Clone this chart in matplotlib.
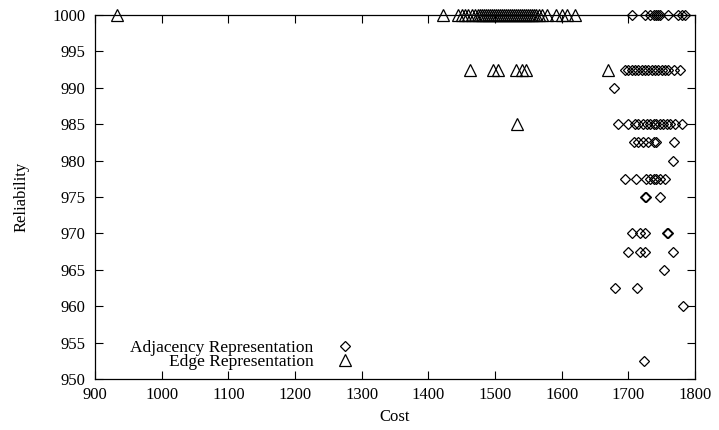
import numpy as np
import matplotlib.pyplot as plt

plt.rcParams['font.family'] = ['Liberation Serif', 'DejaVu Serif']
plt.rcParams['font.size'] = 12

# Adjacency representation (cost, reliability)
adj_cost = [1705, 1725, 1732, 1738, 1742, 1745, 1748, 1760, 1775, 1780, 1785,
            1695, 1700, 1705, 1710, 1715, 1720, 1725, 1730, 1735, 1740, 1745, 1750, 1755, 1760, 1768, 1778,
            1678,
            1685, 1700, 1710, 1715, 1722, 1728, 1733, 1738, 1742, 1748, 1752, 1758, 1763, 1770, 1780,
            1708, 1715, 1722, 1730, 1738, 1742, 1768,
            1767,
            1695, 1712, 1727, 1733, 1738, 1742, 1748, 1755,
            1725, 1727, 1748,
            1705, 1718, 1725, 1758, 1760,
            1700, 1717, 1725, 1767,
            1754,
            1680, 1713,
            1782,
            1723]
adj_rel = [1000] * 11 + [992.5] * 16 + [990] + [985] * 15 + [982.5] * 7 + [980] + \
          [977.5] * 8 + [975] * 3 + [970] * 5 + [967.5] * 4 + [965] + [962.5] * 2 + [960] + [952.5]

# Edge representation (cost, reliability)
edge_cost = [933, 1422, 1445, 1450, 1455, 1460, 1466, 1470, 1474, 1478, 1481, 1484, 1487,
             1490, 1493, 1496, 1499, 1502, 1505, 1508, 1511, 1514, 1517, 1520, 1523, 1526,
             1529, 1532, 1535, 1538, 1541, 1544, 1547, 1550, 1553, 1556, 1559, 1562, 1566,
             1570, 1578, 1592, 1600, 1608, 1620,
             1462, 1497, 1505, 1532, 1540, 1547, 1670,
             1533]
edge_rel = [1000] * 45 + [992.5] * 7 + [985]

fig = plt.figure(figsize=(7.19, 4.30), dpi=100)
ax = fig.add_axes([0.1321, 0.1186, 0.8345, 0.8465])

ax.plot(adj_cost, adj_rel, linestyle='none', marker='D', markersize=5.5,
        markerfacecolor='none', markeredgecolor='black', markeredgewidth=0.9,
        clip_on=False, label='Adjacency Representation')
ax.plot(edge_cost, edge_rel, linestyle='none', marker='^', markersize=8,
        markerfacecolor='none', markeredgecolor='black', markeredgewidth=0.9,
        clip_on=False, label='Edge Representation')

ax.set_xlim(900, 1800)
ax.set_ylim(950, 1000)
ax.set_xticks(np.arange(900, 1801, 100))
ax.set_yticks(np.arange(950, 1001, 5))
ax.tick_params(direction='in', length=6, width=0.8, top=True, right=True, labelsize=12)
ax.tick_params(axis='y', pad=7)
ax.tick_params(axis='x', pad=6)
for s in ax.spines.values():
    s.set_linewidth(0.9)

ax.set_xlabel('Cost', fontsize=12, labelpad=4)
ax.set_ylabel('Reliability', fontsize=12, labelpad=16)

ax.legend(loc='lower right', bbox_to_anchor=(1288, 951.2), bbox_transform=ax.transData,
          frameon=False, markerfirst=False, handlelength=1.0, handletextpad=1.3,
          labelspacing=-0.1, fontsize=12.5, borderpad=0, borderaxespad=0)

fig.savefig('out.png', dpi=100)
